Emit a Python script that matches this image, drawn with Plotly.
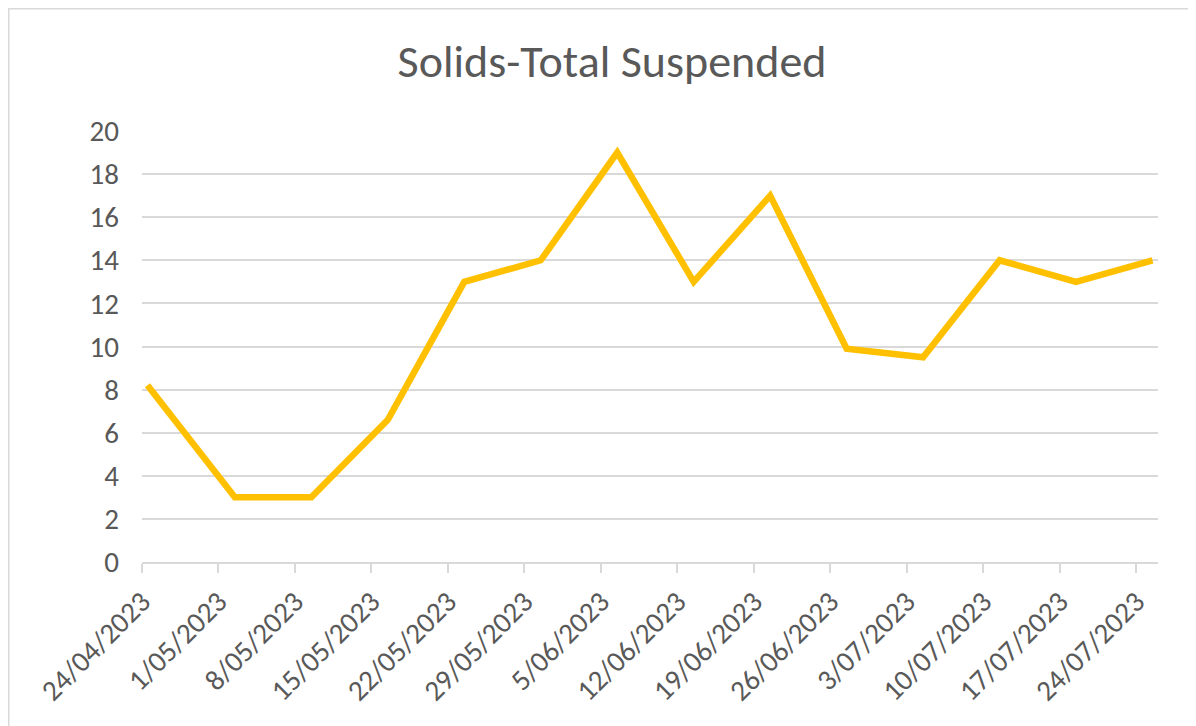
import pandas as pd
import plotly.graph_objects as go

# sample dates and measured values (mg/L)
sample_dates = ["2023-04-24", "2023-05-02", "2023-05-09", "2023-05-16", "2023-05-23",
                "2023-05-30", "2023-06-06", "2023-06-13", "2023-06-20", "2023-06-27",
                "2023-07-04", "2023-07-11", "2023-07-18", "2023-07-25"]
tss_values = [8.2, 3, 3, 6.6, 13, 14, 19, 13, 17, 9.9, 9.5, 14, 13, 14]

tick_dates = ["2023-04-24", "2023-05-01", "2023-05-08", "2023-05-15", "2023-05-22",
              "2023-05-29", "2023-06-05", "2023-06-12", "2023-06-19", "2023-06-26",
              "2023-07-03", "2023-07-10", "2023-07-17", "2023-07-24"]
tick_labels = ["24/04/2023", "1/05/2023", "8/05/2023", "15/05/2023", "22/05/2023",
               "29/05/2023", "5/06/2023", "12/06/2023", "19/06/2023", "26/06/2023",
               "3/07/2023", "10/07/2023", "17/07/2023", "24/07/2023"]

# Excel date axis puts each point in the middle of its day
x = pd.to_datetime(sample_dates) + pd.Timedelta(hours=12)

FONT = "Carlito, Calibri, Lato, sans-serif"
GREY = "#595959"
LINE = "#D9D9D9"

fig = go.Figure()
fig.add_trace(go.Scatter(x=x, y=tss_values, mode="lines",
                         line=dict(color="#FFC000", width=6.5)))

# page has an 8px body margin, so plot box is given in figure pixels
L, T, R, B = 134, 123, 1150, 554
W, H = R - L, B - T


def px_x(p):
    return (p - L) / W


def px_y(p):
    return (B - p) / H


fig.update_layout(
    width=1196, height=726,
    margin=dict(l=L, r=1196 - R, t=T, b=726 - B),
    paper_bgcolor="white", plot_bgcolor="white",
    showlegend=False,
    font=dict(family=FONT, color=GREY),
    title=dict(text="Solids-Total Suspended", x=604 / 1196, xanchor="center",
               y=1 - 53 / 726, yanchor="middle",
               font=dict(size=46, family=FONT, color=GREY)),
    xaxis=dict(type="date", range=["2023-04-24", "2023-07-26"],
               tickvals=pd.to_datetime(tick_dates), ticktext=tick_labels,
               tickangle=-45, tickfont=dict(size=29, color=GREY),
               showgrid=False, showline=True, linecolor=LINE, linewidth=2,
               ticks="outside", ticklen=9, tickwidth=2, tickcolor=LINE),
    yaxis=dict(range=[0, 20], dtick=2, tickfont=dict(size=29, color=GREY),
               showgrid=True, gridcolor=LINE, gridwidth=2,
               zeroline=False, showline=False, ticks="", ticklabelstandoff=22),
    shapes=[
        dict(type="line", xref="paper", yref="paper",
             x0=px_x(0), x1=px_x(1200), y0=px_y(0), y1=px_y(0),
             line=dict(color=LINE, width=3)),
        dict(type="line", xref="paper", yref="paper",
             x0=px_x(0), x1=px_x(0), y0=px_y(0), y1=px_y(730),
             line=dict(color=LINE, width=3)),
    ],
)

fig.write_html("out.html")
